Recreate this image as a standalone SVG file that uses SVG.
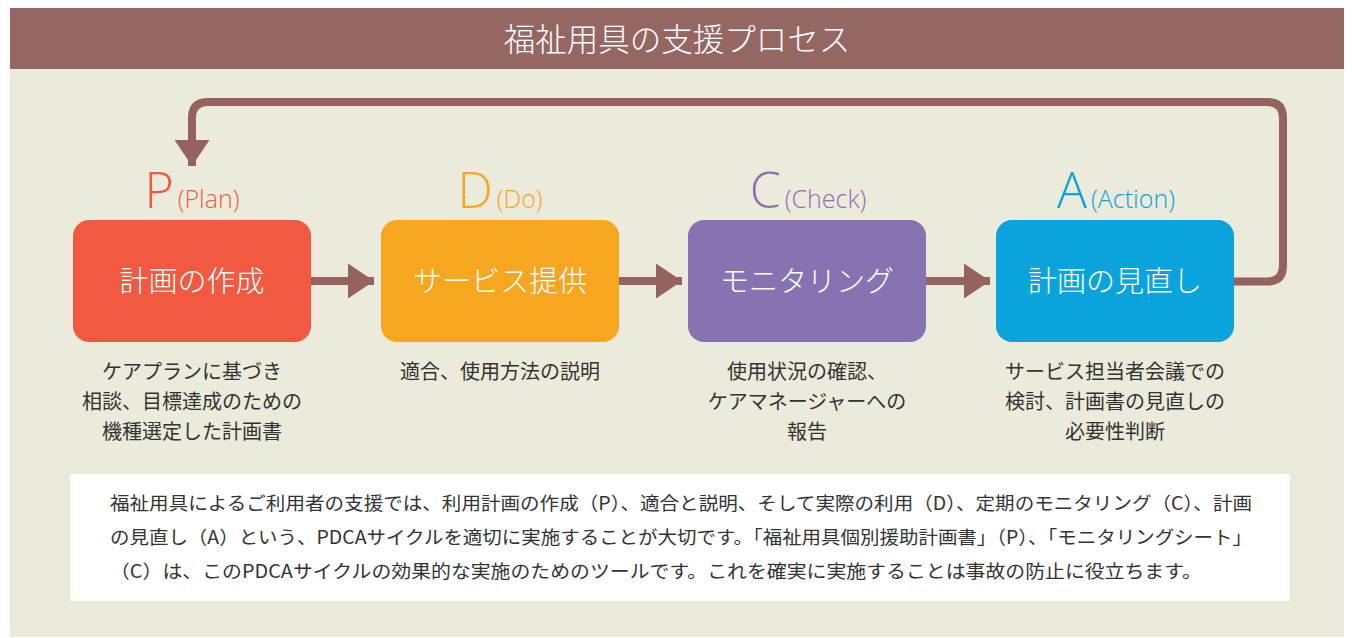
<svg xmlns="http://www.w3.org/2000/svg" width="1354" height="638" viewBox="0 0 1354 638">
<style>
.jp{font-family:"Noto Sans CJK JP","Noto Sans",sans-serif;}
.lat{font-family:"Open Sans","Noto Sans","Noto Sans CJK JP",sans-serif;font-weight:300;}
.box{stroke:none;}
.boxtxt{fill:#ffffff;font-size:29px;text-anchor:middle;font-weight:300;}
.desc{fill:#333333;font-size:20px;text-anchor:middle;}
.body{fill:#333333;font-size:18.5px;}
.conn{fill:none;stroke:#95625F;stroke-width:8;}
</style>
<defs>
<marker id="ah" markerUnits="userSpaceOnUse" markerWidth="26" markerHeight="35" refX="26" refY="17.5" orient="auto" viewBox="0 0 26 35">
<path d="M0,0 L26,17.5 L0,35 Z" fill="#95625F"/>
</marker>
</defs>
<rect x="0" y="0" width="1354" height="638" fill="#ffffff"/>
<rect id="bg" x="10" y="69" width="1334" height="568" fill="#ECEADB"/>
<g id="header">
<rect x="10" y="8" width="1334" height="61" fill="#966663"/>
<text class="jp" x="677" y="51" fill="#ffffff" font-size="31.5" font-weight="300" text-anchor="middle">福祉用具の支援プロセス</text>
</g>
<g id="connectors">
<path class="conn" d="M311,281 H374" marker-end="url(#ah)"/>
<path class="conn" d="M619,281 H682" marker-end="url(#ah)"/>
<path class="conn" d="M926,281 H990" marker-end="url(#ah)"/>
<path class="conn" d="M1234,281.5 H1267 Q1283,281.5 1283,265.5 V118 Q1283,102 1267,102 H208 Q192,102 192,118 V166" marker-end="url(#ah)"/>
</g>
<g id="node-p">
<text class="lat" x="192" y="208" text-anchor="middle" fill="#F15A40"><tspan font-size="50">P</tspan><tspan font-size="25" dx="4">(Plan)</tspan></text>
<rect class="box" x="73" y="220" width="238" height="122" rx="16" fill="#F15A40"/>
<text class="jp boxtxt" x="192" y="292">計画の作成</text>
<text class="jp desc"><tspan x="192" y="379">ケアプランに基づき</tspan><tspan x="192" y="409">相談、目標達成のための</tspan><tspan x="192" y="439">機種選定した計画書</tspan></text>
</g>
<g id="node-d">
<text class="lat" x="500" y="208" text-anchor="middle" fill="#F7A71F"><tspan font-size="50">D</tspan><tspan font-size="25" dx="4">(Do)</tspan></text>
<rect class="box" x="381" y="220" width="238" height="122" rx="16" fill="#F7A71F"/>
<text class="jp boxtxt" x="500" y="292">サービス提供</text>
<text class="jp desc"><tspan x="500" y="379">適合、使用方法の説明</tspan></text>
</g>
<g id="node-c">
<text class="lat" x="808" y="208" text-anchor="middle" fill="#8873B2"><tspan font-size="50">C</tspan><tspan font-size="25" dx="4">(Check)</tspan></text>
<rect class="box" x="688" y="220" width="238" height="122" rx="16" fill="#8873B2"/>
<text class="jp boxtxt" x="807" y="292">モニタリング</text>
<text class="jp desc"><tspan x="807" y="379">使用状況の確認、</tspan><tspan x="807" y="409">ケアマネージャーへの</tspan><tspan x="807" y="439">報告</tspan></text>
</g>
<g id="node-a">
<text class="lat" x="1116" y="208" text-anchor="middle" fill="#0AA3DC"><tspan font-size="50">A</tspan><tspan font-size="25" dx="4">(Action)</tspan></text>
<rect class="box" x="996" y="220" width="238" height="122" rx="16" fill="#0AA3DC"/>
<text class="jp boxtxt" x="1115" y="292">計画の見直し</text>
<text class="jp desc"><tspan x="1115" y="379">サービス担当者会議での</tspan><tspan x="1115" y="409">検討、計画書の見直しの</tspan><tspan x="1115" y="439">必要性判断</tspan></text>
</g>
<g id="note">
<rect x="70" y="474" width="1220" height="127" fill="#ffffff"/>
<text class="jp body" x="110" y="510" textLength="1142" lengthAdjust="spacingAndGlyphs">福祉用具によるご利用者の支援では、利用計画の作成（P）、適合と説明、そして実際の利用（D）、定期のモニタリング（C）、計画</text>
<text class="jp body" x="110" y="544" textLength="1142" lengthAdjust="spacingAndGlyphs">の見直し（A）という、PDCAサイクルを適切に実施することが大切です。「福祉用具個別援助計画書」（P）、「モニタリングシート」</text>
<text class="jp body" x="110" y="578" textLength="1092" lengthAdjust="spacingAndGlyphs">（C）は、このPDCAサイクルの効果的な実施のためのツールです。これを確実に実施することは事故の防止に役立ちます。</text>
</g>
</svg>
